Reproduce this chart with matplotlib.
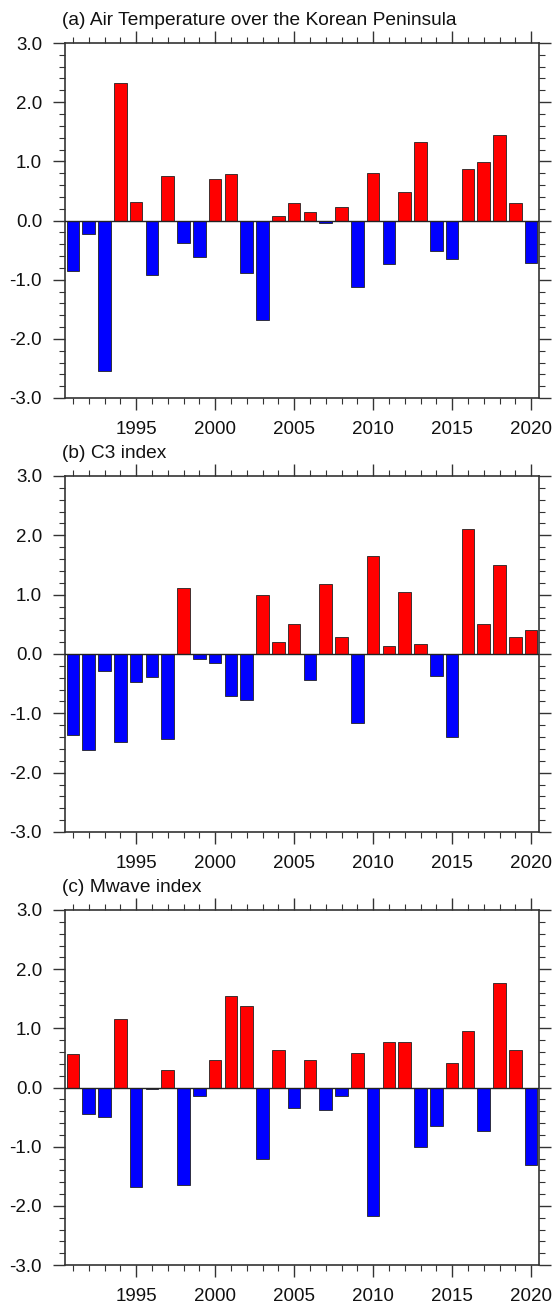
import numpy as np
import matplotlib
matplotlib.use("Agg")
import matplotlib.pyplot as plt
from matplotlib.ticker import MultipleLocator

plt.rcParams['font.family'] = ['Liberation Sans', 'DejaVu Sans']

years = np.arange(1991, 2021)

# standardized anomalies, 1991-2020
air_temp = [-0.86, -0.23, -2.54, 2.33, 0.32, -0.92, 0.75, -0.38, -0.62, 0.70,
            0.78, -0.88, -1.68, 0.08, 0.30, 0.15, -0.05, 0.22, -1.13, 0.81,
            -0.73, 0.48, 1.33, -0.51, -0.65, 0.87, 0.99, 1.45, 0.29, -0.72]
c3_index = [-1.37, -1.62, -0.29, -1.49, -0.47, -0.39, -1.43, 1.11, -0.08, -0.15,
            -0.71, -0.77, 0.99, 0.20, 0.51, -0.44, 1.18, 0.29, -1.17, 1.65,
            0.14, 1.05, 0.17, -0.37, -1.40, 2.10, 0.51, 1.50, 0.28, 0.41]
mwave_index = [0.56, -0.44, -0.50, 1.16, -1.69, -0.03, 0.29, -1.65, -0.14, 0.47,
               1.54, 1.38, -1.20, 0.63, -0.35, 0.47, -0.38, -0.15, 0.58, -2.17,
               0.77, 0.77, -1.01, -0.65, 0.41, 0.95, -0.74, 1.77, 0.64, -1.31]

titles = ["(a) Air Temperature over the Korean Peninsula",
          "(b) C3 index",
          "(c) Mwave index"]
series = [air_temp, c3_index, mwave_index]

W, H = 554, 1305
fig = plt.figure(figsize=(W / 100, H / 100), dpi=100)

# panel frames in pixels: (top, bottom)
frames = [(43, 398), (476, 832), (910, 1265)]
left_px, right_px = 65, 539

for (top, bot), title, vals in zip(frames, titles, series):
    ax = fig.add_axes([left_px / W, 1 - bot / H, (right_px - left_px) / W, (bot - top) / H])
    vals = np.array(vals)
    colors = np.where(vals >= 0, '#ff0000', '#0000ff')
    ax.bar(years, vals, width=0.8, color=colors, edgecolor='#222222', linewidth=0.6, zorder=2)
    ax.axhline(0, color='#222222', linewidth=1.0, zorder=3)

    ax.set_xlim(1990.5, 2020.5)
    ax.set_ylim(-3, 3)
    ax.xaxis.set_major_locator(MultipleLocator(5))
    ax.xaxis.set_minor_locator(MultipleLocator(1))
    ax.yaxis.set_major_locator(MultipleLocator(1))
    ax.yaxis.set_minor_locator(MultipleLocator(0.2))
    ax.yaxis.set_major_formatter(plt.FuncFormatter(lambda v, p: f"{v:.1f}"))

    ax.tick_params(which='both', direction='out', top=True, right=True,
                   color='#333333', labelsize=13.5, labelcolor='#111111')
    ax.tick_params(which='major', length=8.5, width=1.0, pad=8)
    ax.tick_params(which='minor', length=4.3, width=0.8)
    for sp in ax.spines.values():
        sp.set_linewidth(1.2)
        sp.set_color('#333333')

    fig.text(62 / W, 1 - (top - 18) / H, title, fontsize=13.8,
             ha='left', va='baseline', color='#111111')

fig.savefig("out.png", dpi=100)
